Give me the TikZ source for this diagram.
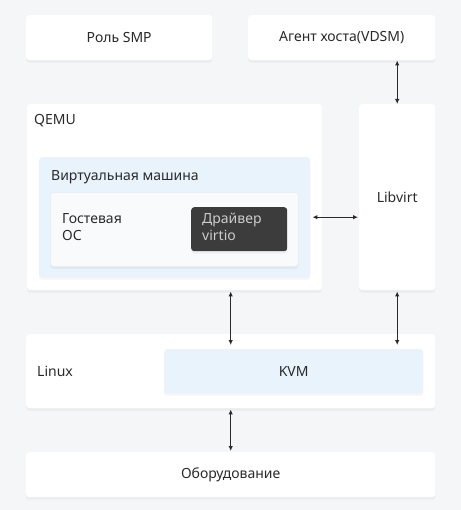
\documentclass[tikz,border=0pt]{standalone}
\usepackage{fontspec}
\setmainfont{Noto Sans}
\usetikzlibrary{arrows.meta,shadows,calc}
\definecolor{bg}{HTML}{F5F6F8}
\definecolor{lblue}{HTML}{E8F3FC}
\definecolor{guestc}{HTML}{F9FAFB}
\definecolor{dark}{HTML}{3C3C3C}
\definecolor{ink}{HTML}{2A2A2A}
\tikzset{
  box/.style={draw=none, rounded corners=3bp, anchor=north west, inner sep=0pt,
    drop shadow={opacity=0.08, shadow xshift=0bp, shadow yshift=-2.5bp}},
  whitebox/.style={box, fill=white},
  bluebox/.style={box, fill=lblue},
  guestbox/.style={box, fill=guestc, draw=lblue!70!gray!40, line width=0.6bp},
  darkbox/.style={box, fill=dark},
  txt/.style={font=\fontsize{14bp}{17.5bp}\selectfont, text=ink, inner sep=0pt},
  lbl/.style={txt, anchor=west},
  arr/.style={{Latex[length=5bp,width=4.5bp]}-{Latex[length=5bp,width=4.5bp]}, draw=ink, line width=1bp},
}
\begin{document}
\begin{tikzpicture}[x=1bp,y=-1bp]
\fill[bg] (0,0) rectangle (461,510);
\useasboundingbox (0,0) rectangle (461,510);
% boxes
\node[whitebox, minimum width=186bp, minimum height=45bp] (smp) at (26,15) {};
\node[whitebox, minimum width=187bp, minimum height=45bp] (vdsm) at (248,15) {};
\node[whitebox, minimum width=295bp, minimum height=186bp] (qemu) at (27,104) {};
\node[whitebox, minimum width=76bp, minimum height=186bp] (libvirt) at (359,104) {};
\node[bluebox, minimum width=271bp, minimum height=120bp] (vm) at (39,157) {};
\node[guestbox, minimum width=248bp, minimum height=74bp] (guest) at (50,192) {};
\node[darkbox, minimum width=96bp, minimum height=44bp] (virtio) at (191,207) {};
\node[whitebox, minimum width=409bp, minimum height=74bp] (linux) at (26,334) {};
\node[bluebox, minimum width=259bp, minimum height=44bp] (kvm) at (164,349) {};
\node[whitebox, minimum width=409bp, minimum height=45bp] (hw) at (26,452) {};
% texts
\node[txt] (smpt) at (smp.center) {Роль SMP};
\node[txt] (vdsmt) at (vdsm.center) {Агент хоста(VDSM)};
\node[txt] (libvirtt) at (libvirt.center) {Libvirt};
\node[txt] (kvmt) at (kvm.center) {KVM};
\node[txt] (hwt) at (hw.center) {Оборудование};
\node[lbl] (qemut) at (34,121) {QEMU};
\node[lbl] (vmt) at (51,177) {Виртуальная машина};
\node[lbl, align=left] (guestt) at (62,227) {Гостевая\\ОС};
\node[lbl, align=left, text=white!80!black] (virtiot) at (202,227) {Драйвер\\virtio};
\node[lbl] (linuxt) at (37,371) {Linux};
% connectors
\draw[arr] (libvirt.north |- vdsm.south) -- (libvirt.north);
\draw[arr, shorten <=2bp, shorten >=1bp] (vm.east) -- (vm.east -| libvirt.west);
\draw[arr, shorten <=1bp, shorten >=4bp] (qemu.south -| hw.north) -- (kvm.north -| hw.north);
\draw[arr, shorten <=1bp, shorten >=4bp] (libvirt.south) -- (libvirt.south |- kvm.north);
\draw[arr, shorten <=1bp, shorten >=1bp] (linux.south -| hw.north) -- (hw.north);
\end{tikzpicture}
\end{document}
